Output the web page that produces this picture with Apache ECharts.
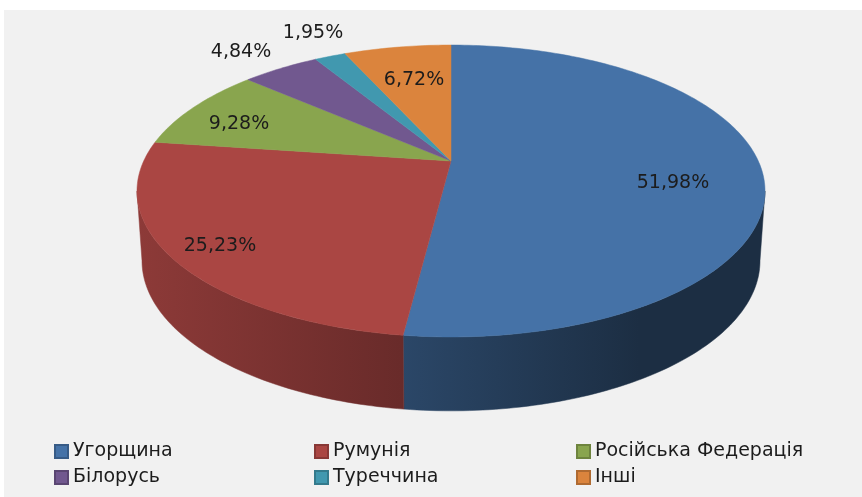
<!DOCTYPE html>
<html>
<head>
<meta charset="utf-8">
<style>html,body{margin:0;padding:0;background:#fff}#chart{width:862px;height:497px}</style>
<script src="https://cdn.jsdelivr.net/npm/echarts@6/dist/echarts.min.js"></script>
</head>
<body>
<div id="chart"></div>
<script>
(function(){
  const categories = ["Угорщина", "Румунія", "Російська Федерація", "Білорусь", "Туреччина", "Інші"];
  const values = [51.98, 25.23, 9.28, 4.84, 1.95, 6.72];
  const colors = ["#4572A7", "#AA4643", "#89A54E", "#71588F", "#4198AF", "#DB843D"];
  // centre of each percent label, in pixels
  const labelSpots = [[673, 183], [220, 246], [239, 124], [241, 52], [313, 33], [414, 80]];

  // 3D look: a circle seen in perspective, k = how much the far side shrinks
  const k = 0.2055;
  const topDisc = { x: 451, y: 161, rx: 307.3, ry: 139.8 };
  const bottomDisc = { x: 451, y: 230, rx: 302.4, ry: 143.7 };
  const edgeAngle = Math.acos(-k) * 180 / Math.PI;

  const total = values.reduce((a, b) => a + b, 0);
  const starts = [];
  values.reduce((sum, v, i) => { starts[i] = sum / total * 360; return sum + v; }, 0);

  function shade(color, f) {
    const rgb = echarts.color.parse(color);
    return "rgb(" + [0, 1, 2].map(j => Math.round(rgb[j] * f)).join(",") + ")";
  }
  function rimPoint(disc, deg) {
    const t = deg * Math.PI / 180;
    const w = 1 + k * Math.cos(t);
    return [disc.x + disc.rx * Math.sin(t) / w, disc.y - disc.ry * Math.cos(t) / w];
  }
  function arc(disc, from, to) {
    const pts = [];
    const n = Math.max(2, Math.ceil(to - from));
    for (let i = 0; i <= n; i++) pts.push(rimPoint(disc, from + (to - from) * i / n));
    return pts;
  }

  function renderSlice(i) {
    return function(params, api) {
      const share = api.value(0) / total * 360;
      const from = starts[i], to = from + share;
      const children = [];
      const c = colors[i];

      const wallFrom = Math.max(from, edgeAngle), wallTo = Math.min(to, 360 - edgeAngle);
      if (wallTo > wallFrom) {
        const wallFill = new echarts.graphic.LinearGradient(137, 0, 765, 0, [
          { offset: 0, color: shade(c, 0.83) },
          { offset: 0.42, color: shade(c, 0.62) },
          { offset: 0.8, color: shade(c, 0.4) },
          { offset: 1, color: shade(c, 0.4) }
        ], true);
        children.push({
          type: "polygon",
          shape: { points: arc(topDisc, wallFrom, wallTo).concat(arc(bottomDisc, wallFrom, wallTo).reverse()) },
          style: { fill: wallFill, stroke: wallFill, lineWidth: 0.5 }
        });
      }
      children.push({
        type: "polygon",
        shape: { points: [[topDisc.x, topDisc.y]].concat(arc(topDisc, from, to)) },
        style: { fill: c, stroke: c, lineWidth: 0.5 }
      });
      children.push({
        type: "text",
        z2: 10,
        style: {
          text: api.value(0).toFixed(2).replace(".", ",") + "%",
          x: labelSpots[i][0], y: labelSpots[i][1],
          align: "center", verticalAlign: "middle",
          font: "19px 'DejaVu Sans'", fill: "#1c1c1c"
        }
      });
      return { type: "group", children: children };
    };
  }

  function legendColumn(names, left) {
    return {
      orient: "vertical", left: left, top: 442, padding: 0,
      icon: "rect", itemWidth: 13, itemHeight: 13, itemGap: 7,
      textStyle: { fontFamily: "DejaVu Sans", fontSize: 19, color: "#1c1c1c" },
      selectedMode: false,
      data: names
    };
  }

  const chart = echarts.init(document.getElementById("chart"));
  chart.setOption({
    animation: false,
    backgroundColor: "#fff",
    graphic: [{
      type: "rect", silent: true, z: -1,
      shape: { x: 4, y: 10, width: 858, height: 487 },
      style: { fill: "#f1f1f1" }
    }],
    legend: [
      legendColumn([categories[0], categories[3]], 54),
      legendColumn([categories[1], categories[4]], 314),
      legendColumn([categories[2], categories[5]], 576)
    ],
    series: categories.map((name, i) => ({
      type: "custom",
      name: name,
      coordinateSystem: "none",
      silent: true,
      itemStyle: { color: colors[i], borderColor: shade(colors[i], 0.8), borderWidth: 1 },
      renderItem: renderSlice(i),
      data: [[values[i]]]
    }))
  });
  window.addEventListener("resize", () => chart.resize());
})();
</script>
</body>
</html>
